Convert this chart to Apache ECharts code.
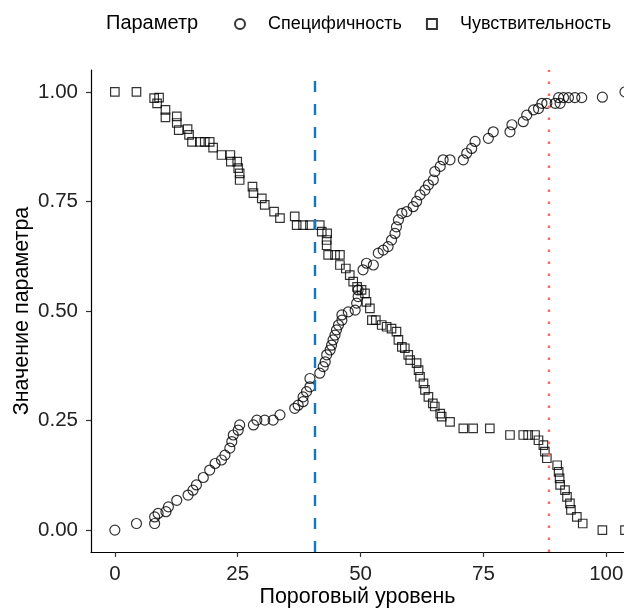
<!DOCTYPE html>
<html>
<head>
<meta charset="utf-8">
<script src="https://cdn.jsdelivr.net/npm/echarts@6/dist/echarts.min.js"></script>
<style>
  html, body { margin: 0; padding: 0; background: #fff; }
  #chart { width: 624px; height: 608px; }
</style>
</head>
<body>
<div id="chart"></div>
<script>
// Sensitivity (squares) by threshold
const sensX = [0, 4.4, 8.0, 8.6, 9.0, 10.3, 10.3, 12.6, 12.6, 13.0, 14.8, 15.1, 15.7, 17.3, 18.3, 19.3, 20.0, 21.7, 23.5, 23.6,
  24.9, 25.1, 25.4, 25.4, 28.0, 28.2, 29.9, 30.5, 32.4, 33.6, 36.6, 37.0, 38.3, 39.7, 41.7, 42.1, 43.2, 43.1, 43.1, 43.4,
  44.8, 45.8, 45.8, 47.0, 47.8, 48.5, 49.3, 50.2, 50.9, 51.2, 51.9, 52.3, 53.1, 54.3, 55.3, 56.3, 57.3, 57.7, 58.4, 59.0,
  59.7, 60.1, 61.4, 61.8, 62.1, 62.8, 63.1, 63.8, 64.7, 65.1, 66.2, 66.5, 68.2, 70.9, 72.9, 76.3, 80.4, 83.1, 84.1, 85.5,
  86.2, 87.2, 87.5, 87.9, 90.0, 90.3, 90.5, 90.6, 91.6, 92.0, 92.6, 92.8, 94.0, 95.2, 99.2, 103.8];
const sensY = [1.0, 1.0, 0.986, 0.974, 0.987, 0.959, 0.942, 0.944, 0.929, 0.913, 0.915, 0.902, 0.886, 0.886, 0.886, 0.886, 0.873, 0.856, 0.856, 0.841,
  0.841, 0.826, 0.814, 0.799, 0.784, 0.769, 0.757, 0.742, 0.727, 0.712, 0.716, 0.696, 0.696, 0.696, 0.696, 0.681, 0.677, 0.662, 0.650, 0.628,
  0.628, 0.628, 0.605, 0.597, 0.582, 0.567, 0.555, 0.548, 0.540, 0.521, 0.506, 0.479, 0.479, 0.468, 0.464, 0.460, 0.453, 0.434, 0.418, 0.415,
  0.400, 0.388, 0.381, 0.365, 0.350, 0.335, 0.320, 0.304, 0.289, 0.282, 0.266, 0.259, 0.247, 0.232, 0.232, 0.232, 0.217, 0.217, 0.217, 0.217,
  0.205, 0.194, 0.179, 0.164, 0.148, 0.133, 0.118, 0.103, 0.091, 0.076, 0.061, 0.046, 0.030, 0.015, 0.0, 0.0];

// Specificity (circles) by threshold
const specX = [0, 4.4, 8.1, 8.1, 8.8, 10.4, 10.9, 12.6, 14.9, 15.9, 16.6, 18.0, 19.3, 20.4, 21.7, 22.4, 23.4, 23.8, 24.1, 25.1,
  25.4, 28.2, 28.9, 30.5, 32.2, 33.6, 36.6, 37.3, 38.3, 38.3, 39.0, 39.7, 39.7, 41.7, 42.4, 42.8, 43.1, 43.8, 44.1, 44.4,
  44.8, 45.1, 45.5, 46.2, 46.2, 47.5, 48.9, 49.2, 49.5, 49.5, 50.5, 51.2, 52.6, 53.6, 54.6, 55.6, 56.3, 57.0, 57.3, 57.7,
  58.4, 59.4, 60.7, 61.4, 62.1, 63.1, 63.8, 64.8, 65.1, 66.2, 66.8, 68.2, 70.9, 71.6, 72.6, 73.3, 76.0, 77.0, 80.4, 80.8,
  83.1, 83.8, 85.2, 86.2, 86.9, 87.9, 89.6, 90.6, 90.3, 91.3, 92.3, 93.6, 95.0, 99.2, 103.8];
const specY = [0.0, 0.015, 0.015, 0.030, 0.038, 0.042, 0.053, 0.068, 0.080, 0.091, 0.103, 0.120, 0.137, 0.152, 0.160, 0.171, 0.187, 0.202, 0.217, 0.228,
  0.240, 0.240, 0.251, 0.251, 0.251, 0.263, 0.278, 0.285, 0.293, 0.304, 0.316, 0.327, 0.346, 0.358, 0.373, 0.384, 0.400, 0.411, 0.422, 0.434,
  0.445, 0.457, 0.468, 0.479, 0.491, 0.498, 0.502, 0.518, 0.533, 0.548, 0.594, 0.609, 0.605, 0.632, 0.639, 0.647, 0.662, 0.677, 0.692, 0.708,
  0.723, 0.727, 0.738, 0.750, 0.765, 0.776, 0.788, 0.799, 0.818, 0.830, 0.845, 0.845, 0.845, 0.860, 0.871, 0.887, 0.894, 0.909, 0.909, 0.925,
  0.932, 0.947, 0.959, 0.962, 0.974, 0.974, 0.974, 0.974, 0.987, 0.987, 0.987, 0.987, 0.987, 0.988, 1.0];

const xTicks = [0, 25, 50, 75, 100];
const yTicks = [0, 0.25, 0.5, 0.75, 1.0];

// Threshold reference lines
const optimalCut = 40.6;
const highCut = 88.2;

const zip = (xs, ys) => xs.map((x, i) => [x, ys[i]]);
const FONT = '"Liberation Sans", Arial, sans-serif';

const chart = echarts.init(document.getElementById('chart'), null, { renderer: 'canvas' });

chart.setOption({
  animation: false,
  backgroundColor: '#fff',
  textStyle: { fontFamily: FONT },
  title: {
    text: 'Параметр',
    left: 101,
    top: 8,
    textStyle: { fontFamily: FONT, fontSize: 20, fontWeight: 'normal', color: '#000' }
  },
  legend: {
    left: 229,
    top: 10,
    itemWidth: 10,
    itemHeight: 10,
    itemGap: 24,
    textStyle: { fontFamily: FONT, fontSize: 18, color: '#000', padding: [0, 0, 0, 18] },
    data: [
      { name: 'Специфичность', icon: 'circle' },
      { name: 'Чувствительность', icon: 'rect' }
    ]
  },
  grid: { left: 91, top: 70, right: 0, height: 482, outerBoundsMode: 'none' },
  xAxis: {
    type: 'value',
    min: -4.85,
    max: 103.6,
    name: 'Пороговый уровень',
    nameLocation: 'middle',
    nameGap: 34,
    nameMoveOverlap: false,
    nameTextStyle: { fontFamily: FONT, fontSize: 21.5, color: '#000' },
    axisLine: { show: true, onZero: false, lineStyle: { color: '#000', width: 1.2 } },
    axisTick: { show: true, length: 5, customValues: xTicks, lineStyle: { color: '#333', width: 1.2 } },
    axisLabel: { customValues: xTicks, fontSize: 20.5, color: '#222', margin: 12, fontFamily: FONT },
    splitLine: { show: false }
  },
  yAxis: {
    type: 'value',
    min: -0.05,
    max: 1.05,
    name: 'Значение параметра',
    nameLocation: 'middle',
    nameGap: 58,
    nameMoveOverlap: false,
    nameTextStyle: { fontFamily: FONT, fontSize: 21.5, color: '#000' },
    axisLine: { show: true, onZero: false, lineStyle: { color: '#000', width: 1.2 } },
    axisTick: { show: true, length: 5, customValues: yTicks, lineStyle: { color: '#333', width: 1.2 } },
    axisLabel: {
      customValues: yTicks,
      fontSize: 20.5,
      color: '#222',
      margin: 13,
      fontFamily: FONT,
      formatter: v => v.toFixed(2)
    },
    splitLine: { show: false }
  },
  series: [
    {
      name: 'Специфичность',
      type: 'scatter',
      symbol: 'circle',
      symbolSize: 10,
      clip: false,
      data: zip(specX, specY),
      itemStyle: { color: 'rgba(255,255,255,0)', borderColor: '#000', borderWidth: 1.2 },
      markLine: {
        silent: true,
        symbol: 'none',
        label: { show: false },
        data: [
          { xAxis: optimalCut, lineStyle: { color: '#1776c0', width: 2.4, type: [11, 12] } },
          { xAxis: highCut, lineStyle: { color: '#ff6a60', width: 2.4, type: [2.5, 9.5] } }
        ]
      },
      z: 3
    },
    {
      name: 'Чувствительность',
      type: 'scatter',
      symbol: 'rect',
      symbolSize: 8.5,
      clip: false,
      data: zip(sensX, sensY),
      itemStyle: { color: 'rgba(255,255,255,0)', borderColor: '#000', borderWidth: 1.2 },
      z: 3
    }
  ]
});
</script>
</body>
</html>
